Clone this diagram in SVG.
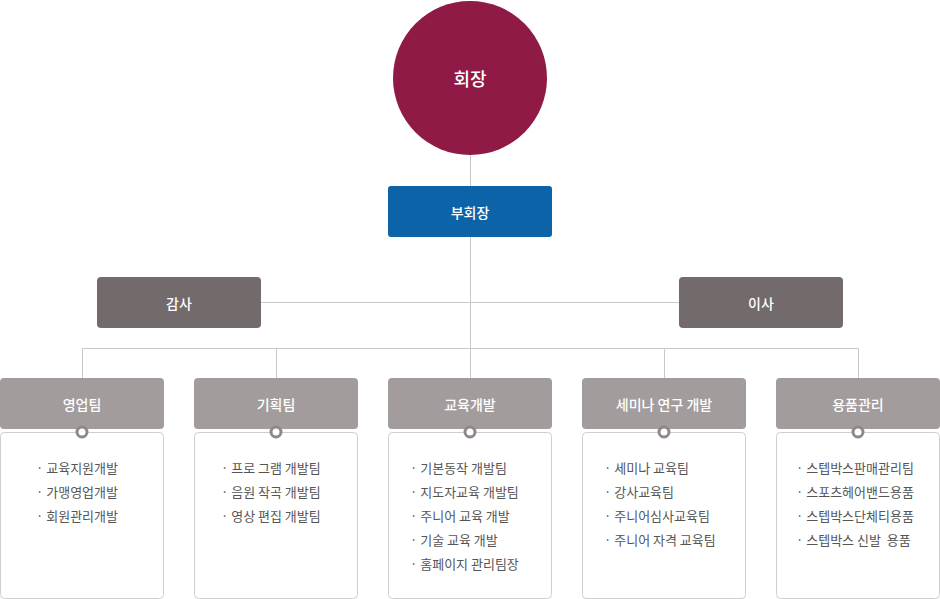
<svg xmlns="http://www.w3.org/2000/svg" width="940" height="599" viewBox="0 0 940 599">
<style>
text{font-family:"Noto Sans CJK KR","Noto Sans",sans-serif}
.ln{stroke:#c9c9c9;stroke-width:1;fill:none}
.hd{fill:#a39c9d}
.gr{fill:#736a6c}
.bx{fill:#fff;stroke:#cfcfcf;stroke-width:1}
.t{fill:#fff;font-size:14px;font-weight:500;text-anchor:middle;dominant-baseline:central}
.it{fill:#555;font-size:13px}
.dot{fill:#fff;stroke:#8f8789;stroke-width:3}
</style>
<rect width="940" height="599" fill="#fff"/>
<g id="connectors">
<line class="ln" x1="470.5" y1="155" x2="470.5" y2="378"/>
<line class="ln" x1="260" y1="302.5" x2="679" y2="302.5"/>
<polyline class="ln" points="82.5,378 82.5,348.5 858.5,348.5 858.5,378"/>
<line class="ln" x1="276.5" y1="348" x2="276.5" y2="378"/>
<line class="ln" x1="664.5" y1="348" x2="664.5" y2="378"/>
</g>
<g id="chairman">
<circle cx="470" cy="78" r="77" fill="#8f1a46"/>
<text class="t" x="470" y="78" style="font-size:18px">회장</text>
</g>
<g id="vice">
<rect x="388" y="186" width="164" height="51" rx="3" fill="#0c63a8"/>
<text class="t" x="470" y="211.5">부회장</text>
</g>
<g id="audit">
<rect class="gr" x="97" y="277" width="164" height="51" rx="4"/>
<text class="t" x="179" y="302.5">감사</text>
</g>
<g id="director">
<rect class="gr" x="679" y="277" width="164" height="51" rx="4"/>
<text class="t" x="761" y="302.5">이사</text>
</g>
<g id="sales">
<rect class="bx" x="0.5" y="432.5" width="163" height="166" rx="4"/>
<rect class="hd" x="0" y="378" width="164" height="51" rx="4"/>
<circle class="dot" cx="82" cy="432" r="5"/>
<text class="t" x="82" y="403.5">영업팀</text>
<text class="it" x="36" y="473">· 교육지원개발</text>
<text class="it" x="36" y="497">· 가맹영업개발</text>
<text class="it" x="36" y="521">· 회원관리개발</text>
</g>
<g id="planning">
<rect class="bx" x="194.5" y="432.5" width="163" height="166" rx="4"/>
<rect class="hd" x="194" y="378" width="164" height="51" rx="4"/>
<circle class="dot" cx="276" cy="432" r="5"/>
<text class="t" x="276" y="403.5">기획팀</text>
<text class="it" x="221" y="473">· 프로 그램 개발팀</text>
<text class="it" x="221" y="497">· 음원 작곡 개발팀</text>
<text class="it" x="221" y="521">· 영상 편집 개발팀</text>
</g>
<g id="education">
<rect class="bx" x="388.5" y="432.5" width="163" height="166" rx="4"/>
<rect class="hd" x="388" y="378" width="164" height="51" rx="4"/>
<circle class="dot" cx="470" cy="432" r="5"/>
<text class="t" x="470" y="403.5">교육개발</text>
<text class="it" x="410" y="473">· 기본동작 개발팀</text>
<text class="it" x="410" y="497">· 지도자교육 개발팀</text>
<text class="it" x="410" y="521">· 주니어 교육 개발</text>
<text class="it" x="410" y="545">· 기술 교육 개발</text>
<text class="it" x="410" y="569">· 홈페이지 관리팀장</text>
</g>
<g id="seminar">
<rect class="bx" x="582.5" y="432.5" width="163" height="166" rx="4"/>
<rect class="hd" x="582" y="378" width="164" height="51" rx="4"/>
<circle class="dot" cx="664" cy="432" r="5"/>
<text class="t" x="664" y="403.5">세미나 연구 개발</text>
<text class="it" x="604" y="473">· 세미나 교육팀</text>
<text class="it" x="604" y="497">· 강사교육팀</text>
<text class="it" x="604" y="521">· 주니어심사교육팀</text>
<text class="it" x="604" y="545">· 주니어 자격 교육팀</text>
</g>
<g id="goods">
<rect class="bx" x="776.5" y="432.5" width="163" height="166" rx="4"/>
<rect class="hd" x="776" y="378" width="164" height="51" rx="4"/>
<circle class="dot" cx="858" cy="432" r="5"/>
<text class="t" x="858" y="403.5">용품관리</text>
<text class="it" x="796" y="473">· 스텝박스판매관리팀</text>
<text class="it" x="796" y="497">· 스포츠헤어밴드용품</text>
<text class="it" x="796" y="521">· 스텝박스단체티용품</text>
<text class="it" x="796" y="545" xml:space="preserve">· 스텝박스 신발  용품</text>
</g>
</svg>
